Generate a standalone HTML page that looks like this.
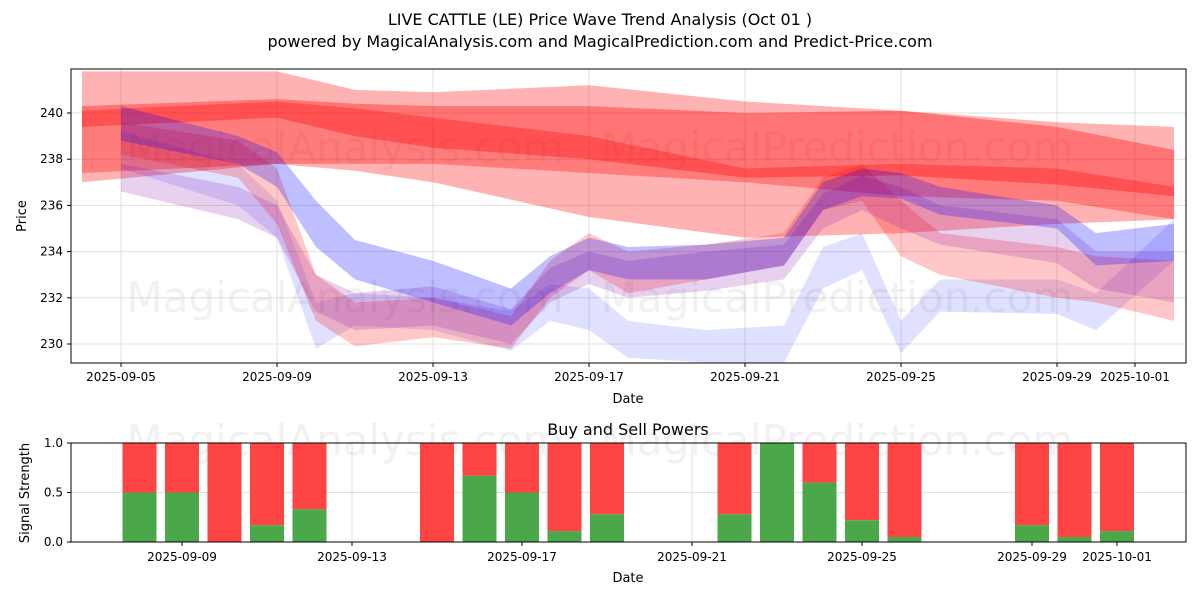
<!DOCTYPE html>
<html><head><meta charset="utf-8">
<style>
body{margin:0;background:#fff;font-family:"Liberation Sans","DejaVu Sans",sans-serif;}
svg text{font-family:"DejaVu Sans","Liberation Sans",sans-serif;}
</style></head>
<body>
<svg id="chart" width="1200" height="600" xmlns="http://www.w3.org/2000/svg">
<text x="600" y="25" text-anchor="middle" font-size="16" fill="#000">LIVE CATTLE (LE) Price Wave Trend Analysis (Oct 01 )</text>
<text x="600" y="47" text-anchor="middle" font-size="16" fill="#000">powered by MagicalAnalysis.com and MagicalPrediction.com and Predict-Price.com</text>
<g id="topPanel"></g>
<g id="botPanel"></g>
</svg>
<script>
const bandDatesA = ["2025-09-04","2025-09-09","2025-09-11","2025-09-13","2025-09-17","2025-09-21","2025-09-25","2025-09-29","2025-10-02"];
const red1Hi = [241.8,241.8,241.0,240.9,241.2,240.5,240.1,239.6,239.4];
const red1Lo = [237.0,237.8,237.5,237.0,235.5,234.6,234.8,235.2,235.4];
const red2Hi = [240.3,240.6,240.4,240.3,240.3,240.0,240.1,239.4,238.4];
const red2Lo = [239.4,239.8,239.0,238.5,238.0,237.2,237.3,236.9,236.4];
const red3Hi = [240.1,240.5,240.2,239.8,239.0,237.6,237.8,237.6,236.8];
const red3Lo = [237.4,237.8,237.8,237.8,237.4,237.0,236.4,236.2,235.4];
const waveDates = ["2025-09-05","2025-09-08","2025-09-09","2025-09-10","2025-09-11","2025-09-13","2025-09-15","2025-09-16","2025-09-17","2025-09-18","2025-09-20","2025-09-22","2025-09-23","2025-09-24","2025-09-25","2025-09-26","2025-09-29","2025-09-30","2025-10-02"];
const pinkHi = [239.6,238.8,237.6,233.0,231.8,232.0,231.2,233.6,234.8,234.0,234.3,234.8,237.2,237.8,236.2,234.8,234.2,233.8,233.6];
const pinkLo = [238.2,237.2,235.2,231.0,229.9,230.3,229.8,232.0,233.2,232.2,232.8,233.4,235.8,236.2,233.8,233.0,232.0,231.8,231.0];
const purpHi = [237.8,236.8,236.0,233.0,232.2,232.5,231.5,233.3,234.0,233.6,234.0,234.3,236.5,237.3,236.8,236.0,235.4,234.0,234.0];
const purpLo = [236.6,235.4,234.6,231.4,230.6,230.8,230.0,231.8,232.6,232.0,232.3,232.8,235.0,235.8,235.0,234.3,233.5,232.4,231.8];
const blueAHi = [240.3,239.0,238.3,236.2,234.5,233.6,232.4,233.8,234.6,234.2,234.3,234.6,237.0,237.6,237.4,236.8,236.0,234.8,235.2];
const blueALo = [238.8,237.8,236.8,234.2,232.8,231.8,230.8,232.2,233.2,232.8,232.8,233.4,235.8,236.4,236.3,235.6,235.0,233.4,233.6];
const blueBHi = [239.2,237.8,236.2,231.8,232.2,232.0,231.4,232.6,232.4,231.0,230.6,230.8,234.2,234.8,231.0,232.8,232.8,232.2,235.4];
const blueBLo = [237.6,236.0,234.6,229.8,230.8,230.6,229.7,231.0,230.6,229.4,229.2,229.2,232.4,233.2,229.6,231.4,231.3,230.6,233.6];
const yTicks = [230,232,234,236,238,240];
const xTickDates = ["2025-09-05","2025-09-09","2025-09-13","2025-09-17","2025-09-21","2025-09-25","2025-09-29","2025-10-01"];
const barDates = ["2025-09-08","2025-09-09","2025-09-10","2025-09-11","2025-09-12","2025-09-15","2025-09-16","2025-09-17","2025-09-18","2025-09-19","2025-09-22","2025-09-23","2025-09-24","2025-09-25","2025-09-26","2025-09-29","2025-09-30","2025-10-01"];
const buyPower = [0.5,0.5,0,0.17,0.33,0,0.67,0.5,0.11,0.28,0.28,1.0,0.6,0.22,0.05,0.17,0.05,0.11];
const sigTicks = [0,0.5,1.0];
const botTickDates = ["2025-09-09","2025-09-13","2025-09-17","2025-09-21","2025-09-25","2025-09-29","2025-10-01"];

const NS="http://www.w3.org/2000/svg";
function mk(tag,attrs,parent){const e=document.createElementNS(NS,tag);for(const k in attrs)e.setAttribute(k,attrs[k]);parent.appendChild(e);return e;}
function day(s){return (Date.parse(s)-Date.parse("2025-09-05"))/86400000;}
const T={l:71,r:1186,t:69,b:363};
function xT(s){return 121+day(s)*39;}
function yT(v){return 113+(240-v)*23.1;}
const B={l:71,r:1186,t:443,b:542};
function xB(s){return 182+(day(s)-4)*42.5;}
function yB(v){return B.b-v*(B.b-B.t);}
const topG=document.getElementById('topPanel'), botG=document.getElementById('botPanel');

mk('rect',{x:T.l,y:T.t,width:T.r-T.l,height:T.b-T.t,fill:'#fff'},topG);
yTicks.forEach(v=>{
  mk('line',{x1:T.l,x2:T.r,y1:yT(v),y2:yT(v),stroke:'#e0e0e0','stroke-width':1},topG);
  mk('line',{x1:T.l-4,x2:T.l,y1:yT(v),y2:yT(v),stroke:'#000'},topG);
  const t=mk('text',{x:T.l-8,y:yT(v)+4,'text-anchor':'end','font-size':12},topG);t.textContent=v;
  
  
});
xTickDates.forEach(d=>{
  mk('line',{x1:xT(d),x2:xT(d),y1:T.t,y2:T.b,stroke:'#e0e0e0'},topG);
  mk('line',{x1:xT(d),x2:xT(d),y1:T.b,y2:T.b+4,stroke:'#000'},topG);
  const t=mk('text',{x:xT(d),y:T.b+18,'text-anchor':'middle','font-size':12},topG);t.textContent=d;
  
  
});
[[345,162,'MagicalAnalysis.com'],[837,162,'MagicalPrediction.com'],[345,312,'MagicalAnalysis.com'],[837,312,'MagicalPrediction.com']].forEach(w=>{
  const t=mk('text',{x:w[0],y:w[1],'text-anchor':'middle','font-size':42,fill:'#888','fill-opacity':0.12},topG);t.textContent=w[2];
  
  
});
const clip=mk('clipPath',{id:'cp'},topG);mk('rect',{x:T.l,y:T.t,width:T.r-T.l,height:T.b-T.t},clip);
const bands=mk('g',{'clip-path':'url(#cp)'},topG);
function band(dates,hi,lo,color,op,name){
  let pts=dates.map((d,i)=>xT(d)+','+yT(hi[i]));
  pts=pts.concat(dates.map((d,i)=>xT(d)+','+yT(lo[i])).reverse());
  const p=mk('polygon',{points:pts.join(' '),fill:color,'fill-opacity':op},bands);
  
  
}
band(bandDatesA,red1Hi,red1Lo,'#ff0000',0.3,'red-band-wide');
band(bandDatesA,red2Hi,red2Lo,'#ff0000',0.35,'red-band-main');
band(bandDatesA,red3Hi,red3Lo,'#ff0000',0.3,'red-band-lower');
band(waveDates,blueBHi,blueBLo,'#0000ff',0.12,'blue-band-low');
band(waveDates,pinkHi,pinkLo,'#ff0000',0.22,'red-wave-band');
band(waveDates,purpHi,purpLo,'#8000a0',0.18,'purple-wave-band');
band(waveDates,blueAHi,blueALo,'#0000ff',0.25,'blue-wave-band');
mk('rect',{x:T.l,y:T.t,width:T.r-T.l,height:T.b-T.t,fill:'none',stroke:'#000'},topG);
let t=mk('text',{x:628,y:403,'text-anchor':'middle','font-size':13},topG);t.textContent='Date';

t=mk('text',{x:26,y:216,'text-anchor':'middle','font-size':13,transform:'rotate(-90 26 216)'},topG);t.textContent='Price';


t=mk('text',{x:628,y:435,'text-anchor':'middle','font-size':16},botG);t.textContent='Buy and Sell Powers';

botTickDates.forEach(d=>{
  mk('line',{x1:xB(d),x2:xB(d),y1:B.t,y2:B.b,stroke:'#e0e0e0'},botG);
  mk('line',{x1:xB(d),x2:xB(d),y1:B.b,y2:B.b+4,stroke:'#000'},botG);
  const tt=mk('text',{x:xB(d),y:B.b+19,'text-anchor':'middle','font-size':12},botG);tt.textContent=d;
  
  
});
sigTicks.forEach(v=>{
  mk('line',{x1:B.l,x2:B.r,y1:yB(v),y2:yB(v),stroke:'#e0e0e0'},botG);
  mk('line',{x1:B.l-4,x2:B.l,y1:yB(v),y2:yB(v),stroke:'#000'},botG);
  const tt=mk('text',{x:B.l-8,y:yB(v)+4,'text-anchor':'end','font-size':12},botG);tt.textContent=v.toFixed(1);
  
  
});
[[345,455,'MagicalAnalysis.com'],[837,455,'MagicalPrediction.com']].forEach(w=>{
  const tt=mk('text',{x:w[0],y:w[1],'text-anchor':'middle','font-size':42,fill:'#888','fill-opacity':0.12},botG);tt.textContent=w[2];
  
  
});
barDates.forEach((d,i)=>{
  const x=xB(d)-17,w=34;
  const r=mk('rect',{x:x,y:yB(1),width:w,height:yB(buyPower[i])-yB(1),fill:'#ff4444'},botG);
  
  
  const g=mk('rect',{x:x,y:yB(buyPower[i]),width:w,height:yB(0)-yB(buyPower[i]),fill:'#4aa84a'},botG);
  
  
});
mk('rect',{x:B.l,y:B.t,width:B.r-B.l,height:B.b-B.t,fill:'none',stroke:'#000'},botG);
t=mk('text',{x:628,y:582,'text-anchor':'middle','font-size':13},botG);t.textContent='Date';

t=mk('text',{x:29,y:493,'text-anchor':'middle','font-size':13,transform:'rotate(-90 29 493)'},botG);t.textContent='Signal Strength';

</script>
</body></html>
